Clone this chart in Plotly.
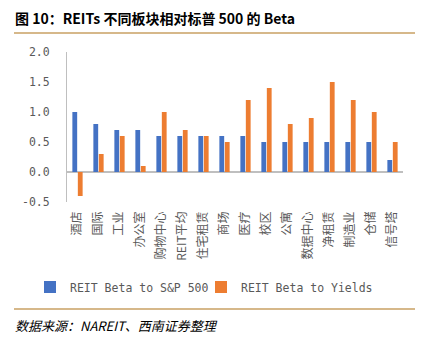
import plotly.graph_objects as go

categories = ["酒店", "国际", "工业", "办公室", "购物中心", "REIT平均", "住宅租赁", "商场",
              "医疗", "校区", "公寓", "数据中心", "净租赁", "制造业", "仓储", "信号塔"]
beta_sp500 = [1.0, 0.8, 0.7, 0.7, 0.6, 0.6, 0.6, 0.6, 0.6, 0.5, 0.5, 0.5, 0.5, 0.5, 0.5, 0.2]
beta_yields = [-0.4, 0.3, 0.6, 0.1, 1.0, 0.7, 0.6, 0.5, 1.2, 1.4, 0.8, 0.9, 1.5, 1.2, 1.0, 0.5]
series_names = ["REIT Beta to S&P 500", "REIT Beta to Yields"]
y_ticks = [-0.5, 0.0, 0.5, 1.0, 1.5, 2.0]

MONO = "DejaVu Sans Mono"
GRAY = "#595959"

fig = go.Figure()
fig.add_trace(go.Bar(x=categories, y=beta_sp500, name=series_names[0], legend="legend",
                     marker=dict(color="#4472C4", line=dict(width=0))))
fig.add_trace(go.Bar(x=categories, y=beta_yields, name=series_names[1], legend="legend2",
                     marker=dict(color="#ED7D31", line=dict(width=0))))

leg_common = dict(orientation="h", xref="container", xanchor="left",
                  yref="container", y=1 - 287 / 337, yanchor="middle",
                  font=dict(family=MONO, size=11.5, color=GRAY),
                  itemwidth=30, bgcolor="rgba(0,0,0,0)")

fig.update_layout(
    width=425, height=337,
    margin=dict(l=67, r=22, t=52, b=135, autoexpand=False),
    paper_bgcolor="white", plot_bgcolor="white",
    barmode="group", bargap=0.48, bargroupgap=0.12,
    showlegend=True,
    legend=dict(x=30 / 425, **leg_common),
    legend2=dict(x=201 / 425, **leg_common),
    font=dict(family="Noto Sans CJK SC", color=GRAY),
)
fig.update_xaxes(
    tickangle=-90,
    tickfont=dict(family="Noto Sans CJK SC", size=12, color=GRAY),
    showline=False, showgrid=False, ticks="", ticklabelstandoff=6,
)
fig.update_yaxes(
    range=[-0.5, 2.0], tickmode="array", tickvals=y_ticks,
    ticktext=[f"{v:.1f}" for v in y_ticks],
    tickfont=dict(family=MONO, size=11.5, color=GRAY),
    showgrid=False, showline=True, linecolor="#BFBFBF", linewidth=1,
    zeroline=True, zerolinecolor="#BFBFBF", zerolinewidth=2,
    ticks="", ticklabelstandoff=14,
)

# header / footer rules
def px_x(px):
    return (px - 67) / 336.0

def px_y(py):
    return (202 - py) / 150.0

fig.add_shape(type="line", xref="paper", yref="paper",
              x0=px_x(14), x1=px_x(415), y0=px_y(33), y1=px_y(33),
              line=dict(color="#C9A063", width=1.5))
fig.add_shape(type="line", xref="paper", yref="paper",
              x0=px_x(14), x1=px_x(415), y0=px_y(309), y1=px_y(309),
              line=dict(color="#C9A063", width=1.5))

fig.add_annotation(text="<b>图 10：REITs 不同板块相对标普 500 的 Beta</b>",
                   xref="paper", yref="paper", x=px_x(13), y=px_y(18),
                   xanchor="left", yanchor="middle", showarrow=False,
                   font=dict(family="Noto Sans CJK SC", size=14, color="#000000"))
fig.add_annotation(text="<i>数据来源：NAREIT、西南证券整理</i>",
                   xref="paper", yref="paper", x=px_x(13), y=px_y(325),
                   xanchor="left", yanchor="middle", showarrow=False,
                   font=dict(family="Noto Sans CJK SC", size=13, color="#000000"))

fig.write_html("out.html")
